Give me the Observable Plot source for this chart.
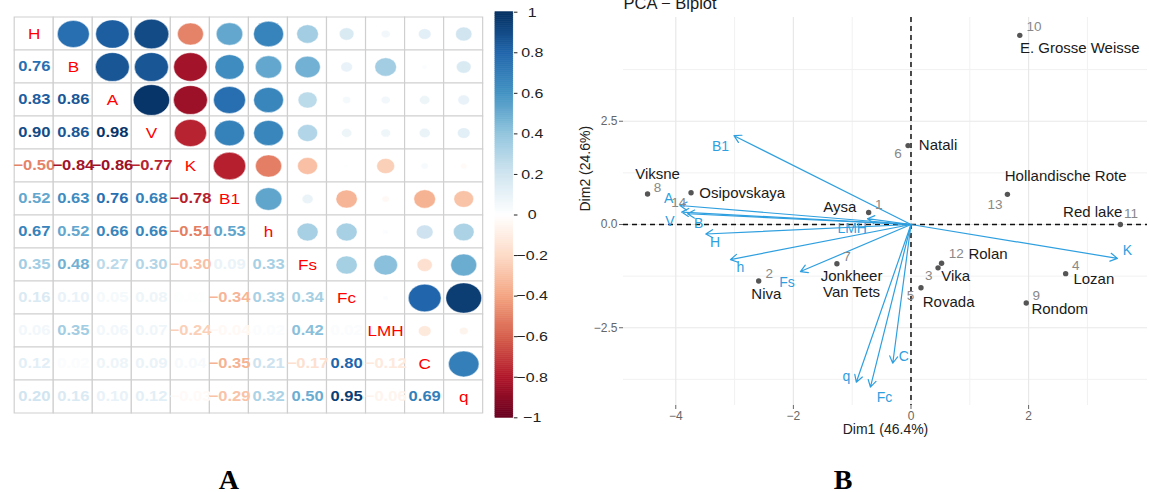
<!DOCTYPE html>
<html><head><meta charset="utf-8">
<script src="https://cdn.jsdelivr.net/npm/d3@7"></script>
<script src="https://cdn.jsdelivr.net/npm/@observablehq/plot@0.6"></script>
<style>
body{margin:0;background:#fff;}
#root{position:relative;width:1149px;height:492px;overflow:hidden;font-family:"Liberation Sans",Arial,sans-serif;}
#left{position:absolute;left:0;top:0;width:480px;height:430px;transform:scaleX(1.183);transform-origin:0 0;}
#left svg{position:absolute;top:0;max-width:none;}
#right{position:absolute;left:560px;top:0;width:589px;height:440px;}
#right svg{position:absolute;top:0;left:0;max-width:none;}
#letters{position:absolute;top:0;left:0;}
</style></head><body>
<div id="root"><div id="left"></div><div id="right"></div></div>
<script>
// ---------- Panel A: correlation matrix ----------
const vars = ["H","B","A","V","K","B1","h","Fs","Fc","LMH","C","q"];
const corrLower = [
  [],
  [0.76],
  [0.83, 0.86],
  [0.90, 0.86, 0.98],
  [-0.50, -0.84, -0.86, -0.77],
  [0.52, 0.63, 0.76, 0.68, -0.78],
  [0.67, 0.52, 0.66, 0.66, -0.51, 0.53],
  [0.35, 0.48, 0.27, 0.30, -0.30, 0.09, 0.33],
  [0.16, 0.10, 0.05, 0.08, 0.01, -0.34, 0.33, 0.34],
  [0.06, 0.35, 0.06, 0.07, -0.24, -0.04, 0.02, 0.42, 0.02],
  [0.12, 0.02, 0.08, 0.09, 0.04, -0.35, 0.21, -0.17, 0.80, -0.12],
  [0.20, 0.16, 0.10, 0.12, -0.03, -0.29, 0.32, 0.50, 0.95, -0.06, 0.69]
];
const colorbarTicks = [-1, -0.8, -0.6, -0.4, -0.2, 0, 0.2, 0.4, 0.6, 0.8, 1];
const corrPalette = ["#67001F","#B2182B","#D6604D","#F4A582","#FDDBC7","#FFFFFF","#D1E5F0","#92C5DE","#4393C3","#2166AC","#053061"];

// ---------- Panel B: PCA biplot ----------
const indIds   = ["1","2","3","4","5","6","7","8","9","10","11","12","13","14"];
const indNames = ["Aysa","Niva","Vika","Lozan","Rovada","Natali","Jonkheer\nVan Tets","Viksne","Rondom","E. Grosse Weisse","Red lake","Rolan","Hollandische Rote","Osipovskaya"];
const indDim1  = [-0.72, -2.59, 0.46, 2.63, 0.17, -0.05, -1.26, -4.48, 1.96, 1.85, 3.56, 0.52, 1.64, -3.74];
const indDim2  = [0.29, -1.37, -1.05, -1.19, -1.53, 1.91, -0.95, 0.74, -1.90, 4.58, 0.00, -0.94, 0.73, 0.77];
const indIdLabelX   = [-0.55, -2.41, 0.30, 2.80, -0.01, -0.22, -1.09, -4.31, 2.13, 2.09, 3.74, 0.77, 1.43, -3.95];
const indIdLabelY   = [0.48, -1.19, -1.23, -0.99, -1.72, 1.71, -0.77, 0.90, -1.72, 4.78, 0.26, -0.71, 0.48, 0.53];
const indNameLabelX = [-1.21, -2.46, 0.76, 3.11, 0.64, 0.46, -1.01, -4.31, 2.53, 2.87, 3.09, 1.31, 2.63, -2.87];
const indNameLabelY = [0.42, -1.68, -1.23, -1.31, -1.88, 1.94, -1.43, 1.23, -2.04, 4.28, 0.30, -0.71, 1.19, 0.77];

const varNames = ["B1","A","V","B","H","h","Fs","LMH","K","C","Fc","q"];
const varDim1  = [-3.01, -3.93, -3.90, -3.80, -3.49, -3.07, -1.88, -0.74, 3.51, -0.31, -0.69, -0.93];
const varDim2  = [2.15, 0.46, 0.30, 0.26, -0.23, -0.85, -1.14, 0.14, -0.82, -3.36, -3.94, -3.82];
const varLabelX = [-3.24, -4.12, -4.10, -3.61, -3.33, -2.90, -2.11, -1.00, 3.68, -0.12, -0.45, -1.10];
const varLabelY = [1.90, 0.62, 0.06, 0.03, -0.44, -1.05, -1.40, -0.10, -0.63, -3.19, -4.18, -3.67];

const xTicksMajor = [-4, -2, 0, 2];
const xTicksMinor = [-3, -1, 1, 3];
const yTicksMajor = [-2.5, 0, 2.5];
const yTicksMinor = [-3.75, -1.25, 1.25, 3.75];

const titleText = "PCA − Biplot";
const xTitle = "Dim1 (46.4%)";
const yTitle = "Dim2 (24.6%)";
const panelLetters = ["A", "B"];

// ---------- build ----------
const font = "'Liberation Sans', Arial, sans-serif";
const minus = s => s.replace(/-/g, "\u2212");

const cells = [];
vars.forEach((rv, i) => vars.forEach((cv, j) => {
  let v = null, kind;
  if (i === j) kind = "diag";
  else if (i > j) { kind = "lower"; v = corrLower[i][j]; }
  else { kind = "upper"; v = corrLower[j][i]; }
  cells.push({row: rv, col: cv, value: v, kind});
}));
const colorScale = {type: "linear", domain: colorbarTicks, range: corrPalette, interpolate: "rgb"};

const matrix = Plot.plot({
  width: 415, height: 430,
  marginLeft: 7.2, marginRight: 2.2, marginTop: 11.7, marginBottom: 12.7,
  x: {type: "band", domain: vars, padding: 0, axis: null},
  y: {type: "band", domain: vars, padding: 0, axis: null},
  color: colorScale,
  r: {type: "sqrt", domain: [0, 1], range: [0, 15.5]},
  style: {fontFamily: font, background: "transparent", overflow: "visible"},
  marks: [
    Plot.cell(cells, {x: "col", y: "row", fill: "white", stroke: "#cfcfcf", strokeWidth: 1}),
    Plot.dot(cells.filter(d => d.kind === "upper"), {x: "col", y: "row", r: d => Math.abs(d.value), fill: "value", stroke: "white", strokeWidth: 0.4}),
    Plot.text(cells.filter(d => d.kind === "lower"), {x: "col", y: "row", text: d => minus(d.value.toFixed(2)), fill: "value", fontWeight: "bold", fontSize: 14}),
    Plot.text(cells.filter(d => d.kind === "diag"), {x: "col", y: "row", text: "col", fill: "red", fontSize: 14.5})
  ]
});
matrix.style.left = "0px";

const strips = d3.range(200).map(i => ({y1: -1 + i * 0.01, y2: -1 + (i + 1) * 0.01}));
const colorbar = Plot.plot({
  width: 52, height: 430,
  marginLeft: 3.4, marginRight: 33.6, marginTop: 11.7, marginBottom: 12.7,
  x: {domain: [0, 1], axis: null},
  y: {domain: [-1, 1]},
  color: colorScale,
  style: {fontFamily: font, background: "transparent", overflow: "visible"},
  marks: [
    Plot.rect(strips, {x1: () => 0, x2: () => 1, y1: "y1", y2: "y2", fill: d => (d.y1 + d.y2) / 2, stroke: d => (d.y1 + d.y2) / 2, strokeWidth: 0.6}),
    Plot.axisY(colorbarTicks, {anchor: "right", tickSize: 3, tickPadding: 13, textAnchor: "middle", fontSize: 13.5, color: "#222", label: null, tickFormat: d => minus(d3.format("~g")(d))})
  ]
});
colorbar.style.left = "415px";
document.getElementById("left").append(matrix, colorbar);

const idx = indIds.map((_, i) => i);
const vIdx = varNames.map((_, i) => i);
const fmtY = d => (d < 0 ? "\u2212" : "") + Math.abs(d).toFixed(1);
const fmtX = d => minus(String(d));
const varColor = "#2E9FDF";

const biplot = Plot.plot({
  width: 589, height: 440,
  marginLeft: 63, marginRight: 2, marginTop: 17, marginBottom: 35,
  x: {domain: [-4.889, 4.022]},
  y: {domain: [-4.383, 5.012]},
  style: {fontFamily: font, background: "transparent", overflow: "visible"},
  marks: [
    Plot.ruleX(xTicksMinor, {stroke: "#f1f1f1", strokeWidth: 1}),
    Plot.ruleY(yTicksMinor, {stroke: "#f1f1f1", strokeWidth: 1}),
    Plot.ruleX(xTicksMajor, {stroke: "#e8e8e8", strokeWidth: 1.2}),
    Plot.ruleY(yTicksMajor, {stroke: "#e8e8e8", strokeWidth: 1.2}),
    Plot.axisX(xTicksMajor, {tickSize: 4, tickPadding: 2, fontSize: 12, color: "#666", label: null, tickFormat: fmtX}),
    Plot.axisY(yTicksMajor, {tickSize: 4, tickPadding: 2, fontSize: 12, color: "#666", label: null, tickFormat: fmtY}),
    Plot.ruleX([0], {stroke: "#111", strokeWidth: 1.5, strokeDasharray: "5,4"}),
    Plot.ruleY([0], {stroke: "#111", strokeWidth: 1.5, strokeDasharray: "5,4"}),
    Plot.arrow(vIdx, {x1: () => 0, y1: () => 0, x2: i => varDim1[i], y2: i => varDim2[i], stroke: varColor, strokeWidth: 1.2, headLength: 10}),
    Plot.text(vIdx, {x: i => varLabelX[i], y: i => varLabelY[i], text: i => varNames[i], fill: varColor, fontSize: 14}),
    Plot.dot(idx, {x: i => indDim1[i], y: i => indDim2[i], r: 2.7, fill: "#555"}),
    Plot.text(idx, {x: i => indIdLabelX[i], y: i => indIdLabelY[i], text: i => indIds[i], fill: "#888", fontSize: 13.5}),
    Plot.text(idx, {x: i => indNameLabelX[i], y: i => indNameLabelY[i], text: i => indNames[i], fill: "#1a1a1a", fontSize: 15, lineHeight: 1.1}),
    Plot.text([titleText], {text: d => d, frameAnchor: "top-left", textAnchor: "start", lineAnchor: "bottom", dy: -9, fontSize: 16.5, fill: "#1a1a1a"}),
    Plot.text([xTitle], {text: d => d, frameAnchor: "bottom", lineAnchor: "middle", dy: 24, fontSize: 14, fill: "#222"}),
    Plot.text([yTitle], {text: d => d, frameAnchor: "left", rotate: -90, dx: -38, fontSize: 14, fill: "#222"})
  ]
});
document.getElementById("right").append(biplot);

// panel letters
const letters = d3.select("#root").append("svg").attr("id", "letters")
  .attr("width", 1149).attr("height", 492).style("pointer-events", "none");
letters.selectAll("text").data(panelLetters).join("text")
  .attr("x", (d, i) => i === 0 ? 228.8 : 843)
  .attr("y", 489)
  .attr("text-anchor", "middle")
  .attr("font-family", "'Liberation Serif', 'Times New Roman', serif")
  .attr("font-weight", "bold")
  .attr("font-size", 28)
  .text(d => d);
</script>
</body></html>
